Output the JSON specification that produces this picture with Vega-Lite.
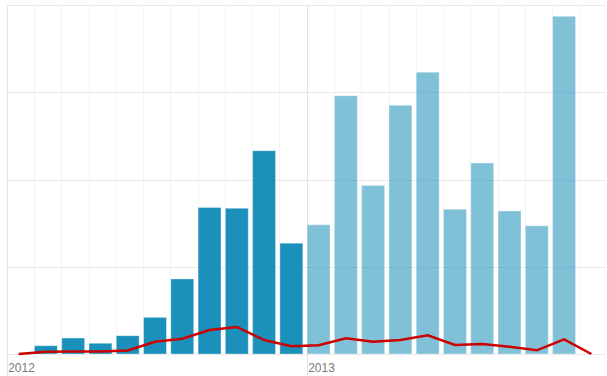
{
  "$schema": "https://vega.github.io/schema/vega-lite/v6.json",
  "width": 600,
  "height": 349,
  "autosize": {"type": "none"},
  "padding": {"left": 5, "top": 5, "right": 2, "bottom": 22},
  "background": "white",
  "config": {"view": {"stroke": null}, "font": "Liberation Sans"},
  "data": {
    "values": [
      {"slot": 0, "year": "2012", "bar": null, "line": 0},
      {"slot": 1, "year": "2012", "bar": 9.5, "line": 2.6},
      {"slot": 2, "year": "2012", "bar": 18.3, "line": 3},
      {"slot": 3, "year": "2012", "bar": 12.3, "line": 3},
      {"slot": 4, "year": "2012", "bar": 21, "line": 4},
      {"slot": 5, "year": "2012", "bar": 42, "line": 14},
      {"slot": 6, "year": "2012", "bar": 86, "line": 17.5},
      {"slot": 7, "year": "2012", "bar": 168, "line": 27.5},
      {"slot": 8, "year": "2012", "bar": 167, "line": 31},
      {"slot": 9, "year": "2012", "bar": 233, "line": 16},
      {"slot": 10, "year": "2012", "bar": 127, "line": 9},
      {"slot": 11, "year": "2013", "bar": 148, "line": 10},
      {"slot": 12, "year": "2013", "bar": 296, "line": 18},
      {"slot": 13, "year": "2013", "bar": 193, "line": 14},
      {"slot": 14, "year": "2013", "bar": 285, "line": 16},
      {"slot": 15, "year": "2013", "bar": 323, "line": 21.4},
      {"slot": 16, "year": "2013", "bar": 166, "line": 10.3},
      {"slot": 17, "year": "2013", "bar": 219, "line": 11.5},
      {"slot": 18, "year": "2013", "bar": 164, "line": 8.4},
      {"slot": 19, "year": "2013", "bar": 147, "line": 4.2},
      {"slot": 20, "year": "2013", "bar": 387, "line": 16.8},
      {"slot": 21, "year": "2013", "bar": null, "line": 0}
    ]
  },
  "encoding": {
    "x": {
      "field": "slot",
      "type": "ordinal",
      "scale": {"paddingInner": 0.16, "paddingOuter": 0.08},
      "axis": {
        "title": null,
        "bandPosition": 0,
        "domain": false,
        "labelAngle": 0,
        "labelAlign": "left",
        "labelBaseline": "middle",
        "labelPadding": -9,
        "labelOffset": -10.5,
        "labelFontSize": 12,
        "labelColor": "#7a7a7a",
        "labelExpr": "datum.value == 0 ? '2012' : (datum.value == 11 ? '2013' : '')",
        "tickSize": 22,
        "tickColor": {"condition": {"test": "datum.value == 0 || datum.value == 11", "value": "#e3e3e3"}, "value": "rgba(0,0,0,0)"},
        "grid": true,
        "gridColor": {"condition": {"test": "datum.value == 0 || datum.value == 11", "value": "#e3e3e3"}, "value": "#f4f4f4"}
      }
    }
  },
  "layer": [
    {
      "mark": {"type": "bar", "stroke": "white", "strokeOpacity": 0.35, "strokeWidth": 1},
      "encoding": {
        "y": {
          "field": "bar",
          "type": "quantitative",
          "scale": {"domain": [0, 400], "nice": false},
          "axis": {
            "title": null,
            "values": [0, 100, 200, 300, 400],
            "labels": false,
            "ticks": false,
            "domain": false,
            "gridColor": "#e9e9e9"
          }
        },
        "color": {"value": "#1a90ba"},
        "opacity": {
          "field": "year",
          "type": "nominal",
          "scale": {"domain": ["2012", "2013"], "range": [1, 0.55]},
          "legend": null
        }
      }
    },
    {
      "mark": {"type": "line", "color": "#cc0000", "strokeWidth": 2.5},
      "encoding": {
        "y": {"field": "line", "type": "quantitative"}
      }
    }
  ]
}
